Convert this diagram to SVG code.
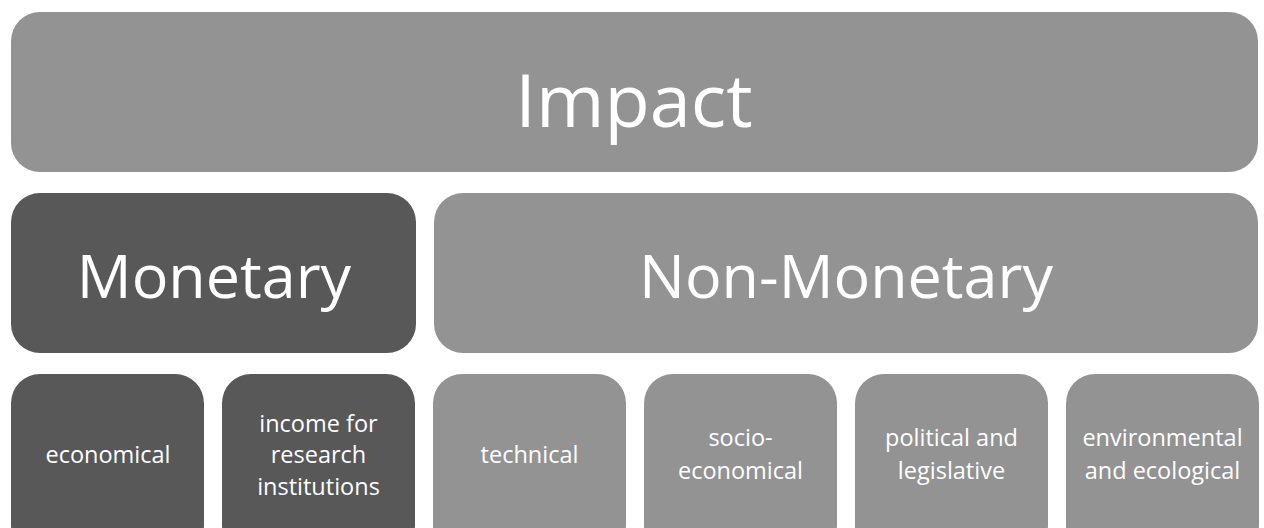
<svg xmlns="http://www.w3.org/2000/svg" width="1264" height="528" viewBox="0 0 1264 528">
  <style>
    .light { fill: #939393; }
    .dark { fill: #585858; }
    text { fill: #ffffff; font-family: "Open Sans", "Liberation Sans", sans-serif; text-anchor: middle; }
    .t1 { font-size: 74px; }
    .t2 { font-size: 61px; }
    .t3 { font-size: 23.5px; }
  </style>
  <rect width="1264" height="528" fill="#ffffff"/>

  <g id="impact">
    <rect class="light" x="11" y="12" width="1247" height="160" rx="29"/>
    <text class="t1" x="634" y="127">Impact</text>
  </g>

  <g id="monetary">
    <rect class="dark" x="11" y="193" width="405" height="160" rx="29"/>
    <text class="t2" x="214" y="298">Monetary</text>
  </g>

  <g id="non-monetary">
    <rect class="light" x="434" y="193" width="824" height="160" rx="29"/>
    <text class="t2" x="846" y="298">Non-Monetary</text>
  </g>

  <g id="economical">
    <rect class="dark" x="11" y="374" width="193" height="180" rx="29"/>
    <text class="t3" x="108" y="463">economical</text>
  </g>

  <g id="income">
    <rect class="dark" x="222" y="374" width="193" height="180" rx="29"/>
    <text class="t3" x="318.5" y="432">income for</text>
    <text class="t3" x="318.5" y="463">research</text>
    <text class="t3" x="318.5" y="495">institutions</text>
  </g>

  <g id="technical">
    <rect class="light" x="433" y="374" width="193" height="180" rx="29"/>
    <text class="t3" x="529.5" y="463">technical</text>
  </g>

  <g id="socio-economical">
    <rect class="light" x="644" y="374" width="193" height="180" rx="29"/>
    <text class="t3" x="740.5" y="446">socio-</text>
    <text class="t3" x="740.5" y="479">economical</text>
  </g>

  <g id="political">
    <rect class="light" x="855" y="374" width="193" height="180" rx="29"/>
    <text class="t3" x="951.5" y="446">political and</text>
    <text class="t3" x="951.5" y="479">legislative</text>
  </g>

  <g id="environmental">
    <rect class="light" x="1066" y="374" width="193" height="180" rx="29"/>
    <text class="t3" x="1162.5" y="446">environmental</text>
    <text class="t3" x="1162.5" y="479">and ecological</text>
  </g>

  <g id="connectors"></g>
</svg>
